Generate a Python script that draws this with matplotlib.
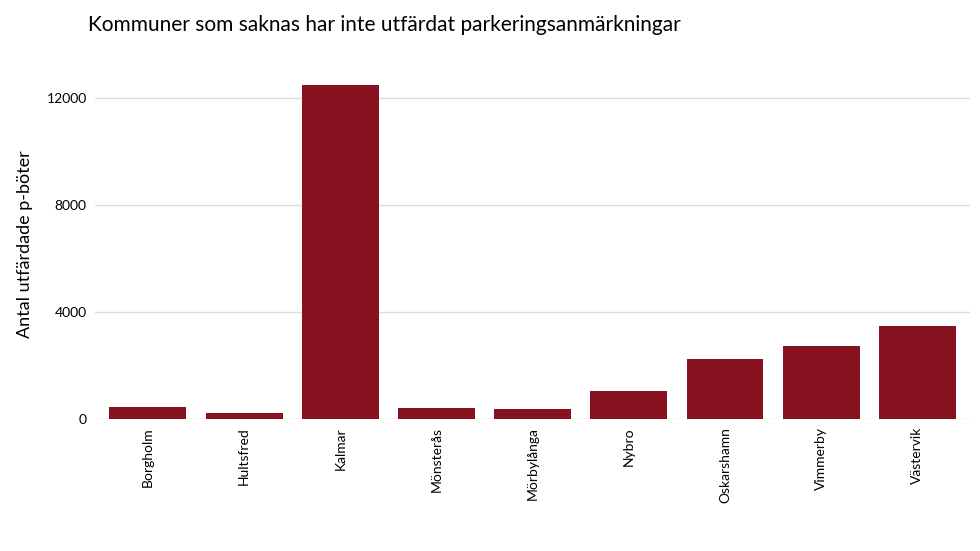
import matplotlib
matplotlib.use("Agg")
import matplotlib.pyplot as plt

kommuner = ["Borgholm", "Hultsfred", "Kalmar", "Mönsterås", "Mörbylånga",
            "Nybro", "Oskarshamn", "Vimmerby", "Västervik"]
antal = [450, 220, 12480, 410, 370, 1040, 2240, 2720, 3470]
yticks = [0, 4000, 8000, 12000]

plt.rcParams['font.family'] = ['Lato', 'DejaVu Sans']

fig = plt.figure(figsize=(9.8, 5.51), dpi=100)
ax = fig.add_axes([0.097, 0.24, 0.893, 0.635])
ax.bar(range(len(kommuner)), antal, width=0.8, color="#86121F", zorder=2)
ax.set_xlim(-0.55, len(kommuner) - 0.45)
ax.set_ylim(0, 13100)
ax.set_yticks(yticks)
ax.set_yticklabels([str(v) for v in yticks], fontsize=10)
ax.set_xticks(range(len(kommuner)))
ax.set_xticklabels(kommuner, rotation=90, fontsize=10)
ax.tick_params(length=0, pad=6)
ax.grid(axis="y", color="#dddddd", linewidth=1, zorder=0)
for s in ax.spines.values():
    s.set_visible(False)
ax.set_ylabel("Antal utfärdade p-böter", fontsize=13, labelpad=10)
fig.text(0.09, 0.955, "Kommuner som saknas har inte utfärdat parkeringsanmärkningar",
         fontsize=15, va="center")
fig.savefig("out.png", dpi=100)
